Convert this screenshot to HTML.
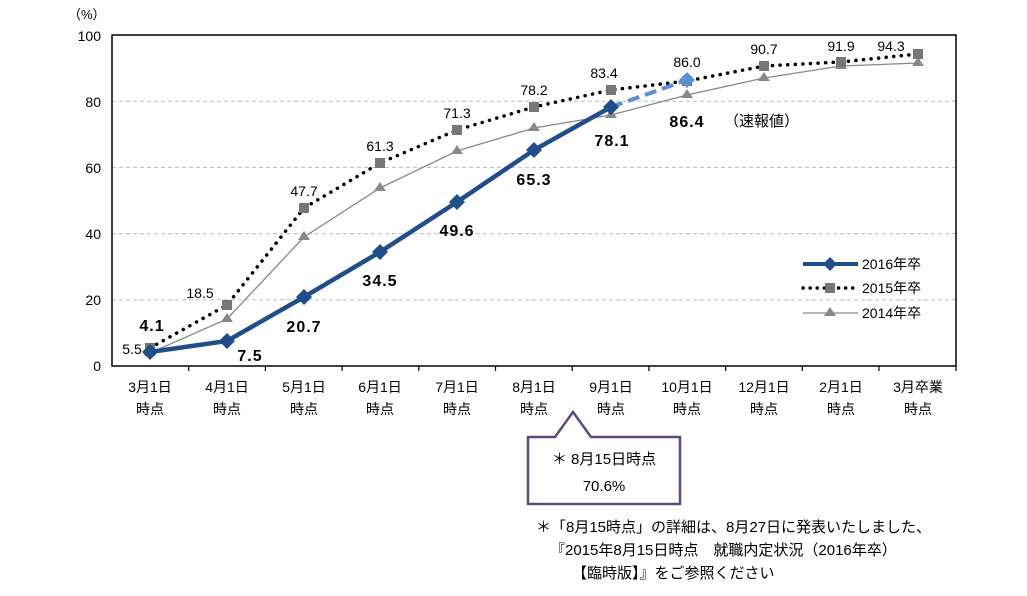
<!DOCTYPE html>
<html><head><meta charset="utf-8"><style>
body{margin:0;background:#fff}
svg text{font-family:"Liberation Sans","Noto Sans CJK JP",sans-serif}
</style></head><body>
<svg width="1027" height="591" viewBox="0 0 1027 591" xmlns="http://www.w3.org/2000/svg">
<g stroke="#bbb" stroke-dasharray="4,3" stroke-width="1">
<line x1="112" x2="956" y1="101.2" y2="101.2"/><line x1="112" x2="956" y1="167.4" y2="167.4"/>
<line x1="112" x2="956" y1="233.6" y2="233.6"/><line x1="112" x2="956" y1="299.8" y2="299.8"/>
</g>
<rect x="112" y="35" width="844" height="331" fill="none" stroke="#000" stroke-width="1.5"/>
<g stroke="#000" stroke-width="1.2">
<line x1="188.7" x2="188.7" y1="366" y2="371"/><line x1="265.4" x2="265.4" y1="366" y2="371"/><line x1="342.1" x2="342.1" y1="366" y2="371"/><line x1="418.8" x2="418.8" y1="366" y2="371"/><line x1="495.5" x2="495.5" y1="366" y2="371"/><line x1="572.2" x2="572.2" y1="366" y2="371"/><line x1="648.9" x2="648.9" y1="366" y2="371"/><line x1="725.6" x2="725.6" y1="366" y2="371"/><line x1="802.3" x2="802.3" y1="366" y2="371"/><line x1="879" x2="879" y1="366" y2="371"/><line x1="956" x2="956" y1="366" y2="371"/>
</g>
<g font-size="14" text-anchor="end" fill="#000">
<text x="101" y="41">100</text><text x="101" y="107">80</text><text x="101" y="173">60</text><text x="101" y="239">40</text><text x="101" y="305">20</text><text x="101" y="371">0</text>
</g>
<text x="68" y="19" font-size="13">（%）</text>
<g font-size="14" text-anchor="middle" fill="#000">
<text x="150" y="392">3月1日</text><text x="150" y="414">時点</text>
<text x="227" y="392">4月1日</text><text x="227" y="414">時点</text>
<text x="304" y="392">5月1日</text><text x="304" y="414">時点</text>
<text x="380" y="392">6月1日</text><text x="380" y="414">時点</text>
<text x="457" y="392">7月1日</text><text x="457" y="414">時点</text>
<text x="534" y="392">8月1日</text><text x="534" y="414">時点</text>
<text x="611" y="392">9月1日</text><text x="611" y="414">時点</text>
<text x="687" y="392">10月1日</text><text x="687" y="414">時点</text>
<text x="764" y="392">12月1日</text><text x="764" y="414">時点</text>
<text x="841" y="392">2月1日</text><text x="841" y="414">時点</text>
<text x="918" y="392">3月卒業</text><text x="918" y="414">時点</text>
</g>
<polyline fill="none" stroke="#888" stroke-width="1.3" points="150,353 227,319 304,237 380,188 457,151 534,128 611,115 687,95 764,78 841,66 918,63"/>
<g fill="#888">
<path d="M150,347 l6,9 h-12z"/><path d="M227,313 l6,9 h-12z"/><path d="M304,231 l6,9 h-12z"/><path d="M380,182 l6,9 h-12z"/><path d="M457,145 l6,9 h-12z"/><path d="M534,122 l6,9 h-12z"/><path d="M611,109 l6,9 h-12z"/><path d="M687,89 l6,9 h-12z"/><path d="M764,72 l6,9 h-12z"/><path d="M841,60 l6,9 h-12z"/><path d="M918,57 l6,9 h-12z"/>
</g>
<polyline fill="none" stroke="#000" stroke-width="3.5" stroke-dasharray="0.1,7.5" stroke-linecap="round" points="150,348 227,305 304,208 380,163 457,130 534,107 611,90 687,81 764,66 841,62 918,54"/>
<g fill="#777">
<rect x="145" y="343" width="10" height="10"/><rect x="222" y="300" width="10" height="10"/><rect x="299" y="203" width="10" height="10"/><rect x="375" y="158" width="10" height="10"/><rect x="452" y="125" width="10" height="10"/><rect x="529" y="102" width="10" height="10"/><rect x="606" y="85" width="10" height="10"/><rect x="682" y="76" width="10" height="10"/><rect x="759" y="61" width="10" height="10"/><rect x="836" y="57" width="10" height="10"/><rect x="913" y="49" width="10" height="10"/>
</g>
<line x1="611" y1="107" x2="687" y2="80" stroke="#5b8fd6" stroke-width="4" stroke-dasharray="12,6"/>
<path d="M687,72 l8,8 -8,8 -8,-8z" fill="#5b8fd6"/>
<polyline fill="none" stroke="#1f4e8a" stroke-width="4.5" points="150,352 227,341 304,297 380,252 457,202 534,150 611,107"/>
<g fill="#1f4e8a">
<path d="M150,344 l8,8 -8,8 -8,-8z"/><path d="M227,333 l8,8 -8,8 -8,-8z"/><path d="M304,289 l8,8 -8,8 -8,-8z"/><path d="M380,244 l8,8 -8,8 -8,-8z"/><path d="M457,194 l8,8 -8,8 -8,-8z"/><path d="M534,142 l8,8 -8,8 -8,-8z"/><path d="M611,99 l8,8 -8,8 -8,-8z"/>
</g>
<g font-size="14" text-anchor="middle" fill="#000">
<text x="132" y="354">5.5</text><text x="200" y="298">18.5</text><text x="304" y="196">47.7</text><text x="380" y="151">61.3</text><text x="457" y="118">71.3</text><text x="534" y="95">78.2</text><text x="604" y="78">83.4</text><text x="687" y="67">86.0</text><text x="764" y="54">90.7</text><text x="841" y="51">91.9</text><text x="891" y="51">94.3</text>
</g>
<g font-size="16" font-weight="bold" text-anchor="middle" fill="#000" letter-spacing="1">
<text x="152" y="331">4.1</text><text x="250" y="361">7.5</text><text x="304" y="332">20.7</text><text x="380" y="286">34.5</text><text x="457" y="236">49.6</text><text x="534" y="185">65.3</text><text x="612" y="146">78.1</text><text x="687" y="127">86.4</text>
</g>
<text x="724" y="126" font-size="15">（速報値）</text>
<line x1="803" x2="858" y1="264" y2="264" stroke="#1f4e8a" stroke-width="4"/>
<path d="M830,257 l7,7 -7,7 -7,-7z" fill="#1f4e8a"/>
<line x1="803" x2="858" y1="288" y2="288" stroke="#000" stroke-width="3.5" stroke-dasharray="0.1,7" stroke-linecap="round"/>
<rect x="825" y="283" width="10" height="10" fill="#777"/>
<line x1="803" x2="858" y1="313" y2="313" stroke="#888" stroke-width="1.3"/>
<path d="M830,307 l6,9 h-12z" fill="#888"/>
<g font-size="14" fill="#000"><text x="862" y="269">2016年卒</text><text x="862" y="293">2015年卒</text><text x="862" y="318">2014年卒</text></g>
<path d="M528,437 H555 L573,412 L591,437 H680 V504 H528 Z" fill="#fff" stroke="#5e4a7e" stroke-width="2.5"/>
<g font-size="15" text-anchor="middle" fill="#000"><text x="604" y="464">＊ 8月15日時点</text><text x="604" y="491">70.6%</text></g>
<g font-size="15" fill="#000">
<text x="536" y="532">＊「8月15時点」の詳細は、8月27日に発表いたしました、</text>
<text x="550" y="555">『2015年8月15日時点　就職内定状況（2016年卒）</text>
<text x="572" y="578">【臨時版】』をご参照ください</text>
</g>
</svg>
</body></html>
